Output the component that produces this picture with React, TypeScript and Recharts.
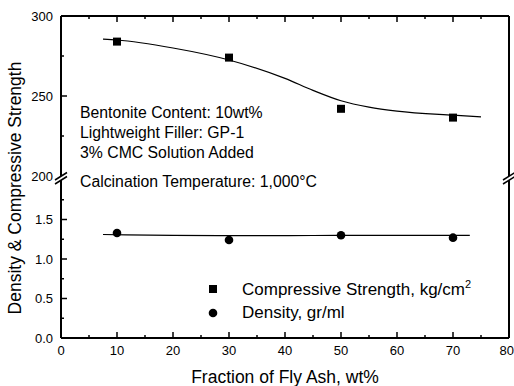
import { ComposedChart, Line, Scatter, XAxis, YAxis, Label } from 'recharts';

const FONT = '"Liberation Sans", Arial, Helvetica, sans-serif';

// measured points
const ashFraction = [10, 30, 50, 70];
const strengthValues = [284, 274, 242, 236.5];
const densityValues = [1.33, 1.24, 1.3, 1.27];

// fitted trend curves
const strengthFitX = [7.5, 10, 20, 30, 40, 45, 50, 55, 60, 70, 75];
const strengthFitY = [285.5, 285, 280, 272.5, 261, 253.5, 247, 243, 240.5, 238, 237];
const densityFitX = [7.5, 20, 30, 40, 50, 60, 73];
const densityFitY = [1.31, 1.3, 1.295, 1.295, 1.3, 1.3, 1.3];

const xTicks = [0, 5, 10, 15, 20, 25, 30, 35, 40, 45, 50, 55, 60, 65, 70, 75, 80];
const strengthTicks = [200, 225, 250, 275, 300];
const densityTicks = [0, 0.25, 0.5, 0.75, 1, 1.25, 1.5, 1.75];

const notes = [
  'Bentonite Content: 10wt%',
  'Lightweight Filler: GP-1',
  '3% CMC Solution Added',
  'Calcination Temperature: 1,000\u00B0C',
];

const strengthPts = ashFraction.map((x, i) => ({ x, y: strengthValues[i] }));
const densityPts = ashFraction.map((x, i) => ({ x, y: densityValues[i] }));
const strengthFit = strengthFitX.map((x, i) => ({ x, y: strengthFitY[i] }));
const densityFit = densityFitX.map((x, i) => ({ x, y: densityFitY[i] }));

const MAJOR = 6;
const MINOR = 3;
const TICK_FONT = 13;

const leftTick = (isMajor: (v: number) => boolean, fmt: (v: number) => string, noLine?: number) => (p: any) => {
  const { x, y, payload } = p;
  const v = payload.value;
  const ax = x + 8;
  const major = isMajor(v);
  return (
    <g>
      {v !== noLine && (
        <line x1={ax} x2={ax + (major ? MAJOR : MINOR)} y1={y} y2={y} stroke="#000" strokeWidth={1.5} />
      )}
      {major && (
        <text x={x} y={y} dy="0.35em" textAnchor="end" fontSize={TICK_FONT} fontFamily={FONT} fill="#000">
          {fmt(v)}
        </text>
      )}
    </g>
  );
};

const rightTick = (isMajor: (v: number) => boolean, noLine?: number) => (p: any) => {
  const { x, y, payload } = p;
  const v = payload.value;
  if (v === noLine) return <g />;
  return <line x1={x} x2={x - (isMajor(v) ? MAJOR : MINOR)} y1={y} y2={y} stroke="#000" strokeWidth={1.5} />;
};

const topTick = (p: any) => {
  const { x, y, payload } = p;
  const len = payload.value % 10 === 0 ? MAJOR : MINOR;
  return <line x1={x} x2={x} y1={y} y2={y + len} stroke="#000" strokeWidth={1.5} />;
};

const bottomTick = (p: any) => {
  const { x, y, payload } = p;
  const v = payload.value;
  const ay = y - 12;
  const major = v % 10 === 0;
  // the last label sits against the right edge
  const last = v === xTicks[xTicks.length - 1];
  return (
    <g>
      <line x1={x} x2={x} y1={ay} y2={ay - (major ? MAJOR : MINOR)} stroke="#000" strokeWidth={1.5} />
      {major && (
        <text
          x={last ? x + 5 : x}
          y={y}
          dy="0.35em"
          textAnchor={last ? 'end' : 'middle'}
          fontSize={TICK_FONT}
          fontFamily={FONT}
          fill="#000"
        >
          {v}
        </text>
      )}
    </g>
  );
};

const square = (p: any) => <rect x={p.cx - 4} y={p.cy - 4} width={8} height={8} fill="#000" />;
const dot = (p: any) => <circle cx={p.cx} cy={p.cy} r={4.3} fill="#000" />;

const axisLine = { stroke: '#000', strokeWidth: 2 };

function BreakMark({ x }: { x: number }) {
  return (
    <g>
      <polygon points={`${x - 6},${180} ${x + 6},${172.5} ${x + 6},${176.5} ${x - 6},${184}`} fill="#fff" />
      <line x1={x - 6} y1={180} x2={x + 6} y2={172.5} stroke="#000" strokeWidth={1.5} />
      <line x1={x - 6} y1={184} x2={x + 6} y2={176.5} stroke="#000" strokeWidth={1.5} />
    </g>
  );
}

export default function App() {
  return (
    <div style={{ position: 'absolute', left: 0, top: 0, width: 514, height: 386, background: '#fff', fontFamily: FONT, overflow: 'hidden' }}>
      {/* upper panel: compressive strength 200-300 */}
      <div style={{ position: 'absolute', left: 0, top: 0 }}>
        <ComposedChart width={514} height={190} margin={{ top: 0, right: 0, bottom: 14, left: 0 }}>
          <XAxis
            dataKey="x"
            type="number"
            orientation="top"
            domain={[0, 80]}
            ticks={xTicks}
            interval={0}
            height={16}
            tickSize={0}
            tickMargin={0}
            axisLine={axisLine}
            tickLine={false}
            tick={topTick}
          />
          <YAxis
            yAxisId="l"
            type="number"
            domain={[200, 300]}
            ticks={strengthTicks}
            interval={0}
            width={61}
            tickSize={0}
            tickMargin={8}
            axisLine={axisLine}
            tickLine={false}
            tick={leftTick((v) => v % 50 === 0, (v) => String(v), 200)}
          />
          <YAxis
            yAxisId="r"
            orientation="right"
            type="number"
            domain={[200, 300]}
            ticks={strengthTicks}
            interval={0}
            width={5}
            tickSize={0}
            tickMargin={0}
            axisLine={axisLine}
            tickLine={false}
            tick={rightTick((v) => v % 50 === 0, 200)}
          />
          <Line
            yAxisId="l"
            data={strengthFit}
            dataKey="y"
            type="monotone"
            stroke="#000"
            strokeWidth={1.2}
            dot={false}
            isAnimationActive={false}
          />
          <Scatter yAxisId="l" data={strengthPts} dataKey="y" shape={square} isAnimationActive={false} />
        </ComposedChart>
      </div>

      {/* lower panel: density 0-2 */}
      <div style={{ position: 'absolute', left: 0, top: 170 }}>
        <ComposedChart width={514} height={216} margin={{ top: 10, right: 0, bottom: 0, left: 0 }}>
          <XAxis
            dataKey="x"
            type="number"
            domain={[0, 80]}
            ticks={xTicks}
            interval={0}
            height={48}
            tickSize={0}
            tickMargin={12}
            axisLine={axisLine}
            tickLine={false}
            tick={bottomTick}
          >
            <Label
              value="Fraction of Fly Ash, wt%"
              position="insideBottom"
              offset={3}
              style={{ fontSize: 17.5, fontFamily: FONT, fill: '#000' }}
            />
          </XAxis>
          <YAxis
            yAxisId="l"
            type="number"
            domain={[0, 2]}
            ticks={densityTicks}
            interval={0}
            width={61}
            tickSize={0}
            tickMargin={8}
            axisLine={axisLine}
            tickLine={false}
            tick={leftTick((v) => Math.abs(v * 2 - Math.round(v * 2)) < 1e-9, (v) => v.toFixed(1))}
          />
          <YAxis
            yAxisId="r"
            orientation="right"
            type="number"
            domain={[0, 2]}
            ticks={densityTicks}
            interval={0}
            width={5}
            tickSize={0}
            tickMargin={0}
            axisLine={axisLine}
            tickLine={false}
            tick={rightTick((v) => Math.abs(v * 2 - Math.round(v * 2)) < 1e-9)}
          />
          <Line
            yAxisId="l"
            data={densityFit}
            dataKey="y"
            type="monotone"
            stroke="#000"
            strokeWidth={1.2}
            dot={false}
            isAnimationActive={false}
          />
          <Scatter yAxisId="l" data={densityPts} dataKey="y" shape={dot} isAnimationActive={false} />
        </ComposedChart>
      </div>

      {/* axis break marks */}
      <svg width={514} height={386} style={{ position: 'absolute', left: 0, top: 0, pointerEvents: 'none' }}>
        <BreakMark x={61} />
        <BreakMark x={509} />
      </svg>

      {/* shared y title */}
      <div
        style={{
          position: 'absolute',
          left: 15,
          top: 188,
          transform: 'translate(-50%, -50%) rotate(-90deg)',
          whiteSpace: 'nowrap',
          fontSize: 17.5,
          color: '#000',
        }}
      >
        Density &amp; Compressive Strength
      </div>

      {/* test conditions */}
      {notes.map((t, i) => (
        <div
          key={t}
          style={{
            position: 'absolute',
            left: 80,
            top: (i < 3 ? 113 + i * 20 : 182) - 9,
            fontSize: 15.8,
            lineHeight: '18px',
            whiteSpace: 'nowrap',
            color: '#000',
          }}
        >
          {t}
        </div>
      ))}

      {/* legend */}
      <div style={{ position: 'absolute', left: 208, top: 277, fontSize: 17, color: '#000' }}>
        <div style={{ display: 'flex', alignItems: 'center', height: 24 }}>
          <svg width={34} height={12}>
            <rect x={1} y={2} width={8} height={8} fill="#000" />
          </svg>
          <span>
            Compressive Strength, kg/cm<sup style={{ fontSize: 11 }}>2</sup>
          </span>
        </div>
        <div style={{ display: 'flex', alignItems: 'center', height: 24 }}>
          <svg width={34} height={12}>
            <circle cx={5} cy={6} r={4.3} fill="#000" />
          </svg>
          <span>Density, gr/ml</span>
        </div>
      </div>
    </div>
  );
}
